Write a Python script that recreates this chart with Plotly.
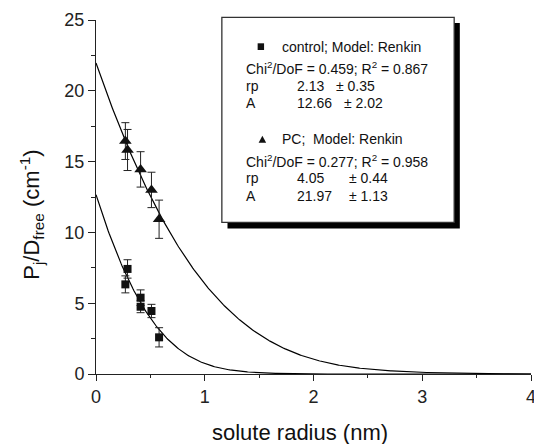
import numpy as np
import plotly.graph_objects as go

# ---- data ----
control_x = [0.29, 0.27, 0.41, 0.41, 0.51, 0.58]
control_y = [7.42, 6.33, 5.39, 4.75, 4.45, 2.59]
control_err = [0.65, 0.60, 0.55, 0.42, 0.47, 0.68]

pc_x = [0.27, 0.29, 0.41, 0.51, 0.58]
pc_y = [16.45, 15.82, 14.45, 13.00, 10.93]
pc_err = [1.30, 1.45, 1.25, 1.25, 1.35]

# Renkin fit parameters (from the legend box)
control_A, control_rp = 12.66, 2.13
pc_A, pc_rp = 21.97, 4.05

x_ticks = [0, 1, 2, 3, 4]
y_ticks = [0, 5, 10, 15, 20, 25]


def renkin(r, A, rp):
    lam = np.clip(r / rp, 0, 1)
    return A * (1 - lam) ** 2 * (1 - 2.104 * lam + 2.09 * lam ** 3 - 0.95 * lam ** 5)


r = np.linspace(0, 4, 401)

FONT = "Liberation Sans, Arial, Helvetica, sans-serif"
fig = go.Figure()

fig.add_trace(go.Scatter(x=r, y=renkin(r, control_A, control_rp), mode="lines",
                         line=dict(color="black", width=1.2), showlegend=False, hoverinfo="skip"))
fig.add_trace(go.Scatter(x=r, y=renkin(r, pc_A, pc_rp), mode="lines",
                         line=dict(color="black", width=1.2), showlegend=False, hoverinfo="skip"))

fig.add_trace(go.Scatter(x=control_x, y=control_y, mode="markers",
                         marker=dict(symbol="square", size=8, color="#111"),
                         error_y=dict(type="data", array=control_err, color="#222", thickness=1, width=4),
                         showlegend=False))
fig.add_trace(go.Scatter(x=pc_x, y=pc_y, mode="markers",
                         marker=dict(symbol="triangle-up", size=11, color="#111"),
                         error_y=dict(type="data", array=pc_err, color="#222", thickness=1, width=4),
                         showlegend=False))

# plot area in pixels (figure slightly wider than the window so the "4" label is cut like the reference)
FIG_W, FIG_H = 536, 444
L, T, W, H = 96, 20, 440, 354


def fx(p):
    return (p - L) / W


def fy(p):
    return (T + H - p) / H


shapes = []
# legend box shadow and box
shapes.append(dict(type="rect", xref="paper", yref="paper",
                   x0=fx(229), x1=fx(464), y0=fy(228.5), y1=fy(23),
                   fillcolor="black", line=dict(width=0)))
shapes.append(dict(type="rect", xref="paper", yref="paper",
                   x0=fx(223.3), x1=fx(458.3), y0=fy(222.3), y1=fy(17.3),
                   fillcolor="white", line=dict(color="#333", width=1.3)))
# legend symbols
shapes.append(dict(type="rect", xref="paper", yref="paper",
                   x0=fx(259.5), x1=fx(266), y0=fy(50), y1=fy(43.3),
                   fillcolor="#111", line=dict(width=0)))
tx, ty = 264.3, 139.3
shapes.append(dict(type="path", xref="paper", yref="paper",
                   path=f"M {fx(tx-3.8)},{fy(ty+3.5)} L {fx(tx+3.8)},{fy(ty+3.5)} L {fx(tx)},{fy(ty-3.6)} Z",
                   fillcolor="#111", line=dict(width=0)))

annotations = []


def txt(x, y, s, size=14):
    annotations.append(dict(x=fx(x), y=fy(y), xref="paper", yref="paper", text=s,
                            showarrow=False, xanchor="left", yanchor="middle",
                            font=dict(family=FONT, size=size, color="#111")))


txt(282.0, 46.7, "control; Model: Renkin")
txt(246.0, 68.3, "Chi<sup>2</sup>/DoF = 0.459; R<sup>2</sup> = 0.867")
txt(246.0, 85.5, "rp")
txt(297.5, 85.5, "2.13")
txt(336.5, 85.5, "± 0.35")
txt(246.0, 103.0, "A")
txt(297.5, 103.0, "12.66")
txt(344.5, 103.0, "± 2.02")
txt(282.5, 139.3, "PC;  Model: Renkin")
txt(246.0, 160.7, "Chi<sup>2</sup>/DoF = 0.277; R<sup>2</sup> = 0.958")
txt(246.0, 178.5, "rp")
txt(297.5, 178.5, "4.05")
txt(349.5, 178.5, "± 0.44")
txt(246.0, 196.0, "A")
txt(297.5, 196.0, "21.97")
txt(349.5, 196.0, "± 1.13")

# axis titles
annotations.append(dict(x=fx(302), y=fy(432.5), xref="paper", yref="paper",
                        text="solute radius (nm)", showarrow=False,
                        xanchor="center", yanchor="middle",
                        font=dict(family=FONT, size=22, color="#111")))
annotations.append(dict(x=fx(30), y=fy(215), xref="paper", yref="paper",
                        text="P<sub>j</sub>/D<sub>free</sub> (cm<sup>-1</sup>)", showarrow=False,
                        textangle=-90, xanchor="center", yanchor="middle",
                        font=dict(family=FONT, size=22, color="#111")))

axis_common = dict(showline=True, linecolor="#222", linewidth=1, ticks="outside",
                   tickcolor="#222", tickwidth=1, showgrid=False, zeroline=False,
                   ticklabeloverflow="allow",
                   tickfont=dict(family=FONT, size=18, color="#222"))

fig.update_layout(
    width=FIG_W, height=FIG_H,
    margin=dict(l=L, r=FIG_W - L - W, t=T, b=FIG_H - T - H, pad=0),
    plot_bgcolor="white", paper_bgcolor="white",
    showlegend=False,
    xaxis=dict(range=[0, 4], tickvals=x_ticks, ticklen=6,
               minor=dict(ticks="outside", dtick=0.5, ticklen=3, tickcolor="#222"),
               **axis_common),
    yaxis=dict(range=[0, 25], tickvals=y_ticks, ticklen=7,
               minor=dict(ticks="outside", dtick=2.5, ticklen=4, tickcolor="#222"),
               **axis_common),
    shapes=shapes,
    annotations=annotations,
)

fig.write_html(
    "out.html",
    config={"displayModeBar": False},
    post_script="document.body.style.margin='0';document.body.style.padding='0';"
                "document.body.style.overflow='hidden';",
)
